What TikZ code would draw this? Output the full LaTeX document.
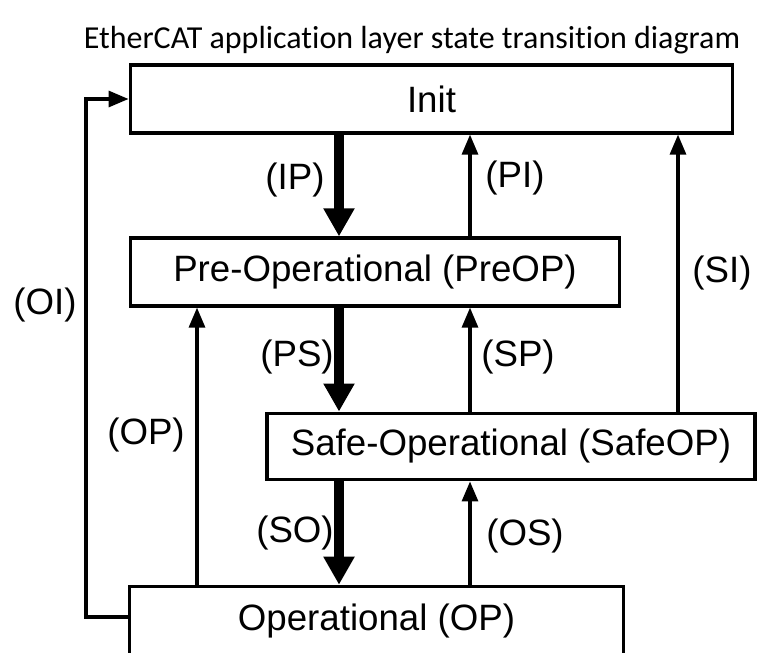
\documentclass[tikz,border=0pt]{standalone}
\usepackage{fontspec}
\setmainfont{Liberation Sans}
\newfontfamily\titlefont[Ligatures = NoCommon]{Carlito}
\usetikzlibrary{arrows.meta}

\tikzset{
  state/.style     = {draw, line width = 2.4pt, inner sep = 0pt, font = \fontsize{27.5}{32}\selectfont},
  trans/.style     = {inner sep = 0pt, font = \fontsize{27.5}{32}\selectfont},
  thin arrow/.style = {line width = 2.3pt, -{Triangle[width = 12pt, length = 15pt]}},
  fat arrow/.style  = {line width = 8pt, -{Triangle[width = 22pt, length = 21pt]}}
}

\begin{document}
\begin{tikzpicture}[x = 0.75pt, y = -0.75pt]

  \clip (0,0) rectangle (758,653);

  % Title
  \node[font = \titlefont\fontsize{24}{28}\selectfont] (title) at (412, 40) {EtherCAT application layer state transition diagram};

  % States
  \node[state, minimum width = 452pt, minimum height = 51pt] (init)   at (431.5,  99)   {Init};
  \node[state, minimum width = 367pt, minimum height = 51pt] (preop)  at (375,   272)   {Pre-Operational (PreOP)};
  \node[state, minimum width = 366pt, minimum height = 50pt] (safeop) at (511,   446.5) {Safe-Operational (SafeOP)};
  \node[state, minimum width = 370pt, minimum height = 52pt] (op)     at (376.5, 621)   {Operational (OP)};

  % Columns of the transitions
  \coordinate (colOI) at ( 86, 0);
  \coordinate (colOP) at (197, 0);
  \coordinate (colIP) at (339, 0);
  \coordinate (colPI) at (470, 0);
  \coordinate (colSI) at (678, 0);

  % Transitions, downwards
  \draw[fat arrow] (init.south   -| colIP) -- (preop.north  -| colIP);
  \draw[fat arrow] (preop.south  -| colIP) -- (safeop.north -| colIP);
  \draw[fat arrow] (safeop.south -| colIP) -- (op.north     -| colIP);

  % Transitions, upwards
  \draw[thin arrow] (preop.north  -| colPI) -- (init.south   -| colPI);
  \draw[thin arrow] (safeop.north -| colPI) -- (preop.south  -| colPI);
  \draw[thin arrow] (op.north     -| colPI) -- (safeop.south -| colPI);
  \draw[thin arrow] (safeop.north -| colSI) -- (init.south   -| colSI);
  \draw[thin arrow] (op.north     -| colOP) -- (preop.south  -| colOP);
  \draw[thin arrow] ([yshift = 3pt]op.west) -| (colOI |- init.west) -- (init.west);

  % Transition labels
  \node[trans] (lIP) at (295, 180) {(IP)};
  \node[trans] (lPI) at (515, 178) {(PI)};
  \node[trans] (lSI) at (722, 273) {(SI)};
  \node[trans] (lOI) at ( 45, 305) {(OI)};
  \node[trans] (lPS) at (297, 357) {(PS)};
  \node[trans] (lSP) at (518, 357) {(SP)};
  \node[trans] (lOP) at (146, 435) {(OP)};
  \node[trans] (lSO) at (295, 533) {(SO)};
  \node[trans] (lOS) at (525, 536) {(OS)};

\end{tikzpicture}
\end{document}
